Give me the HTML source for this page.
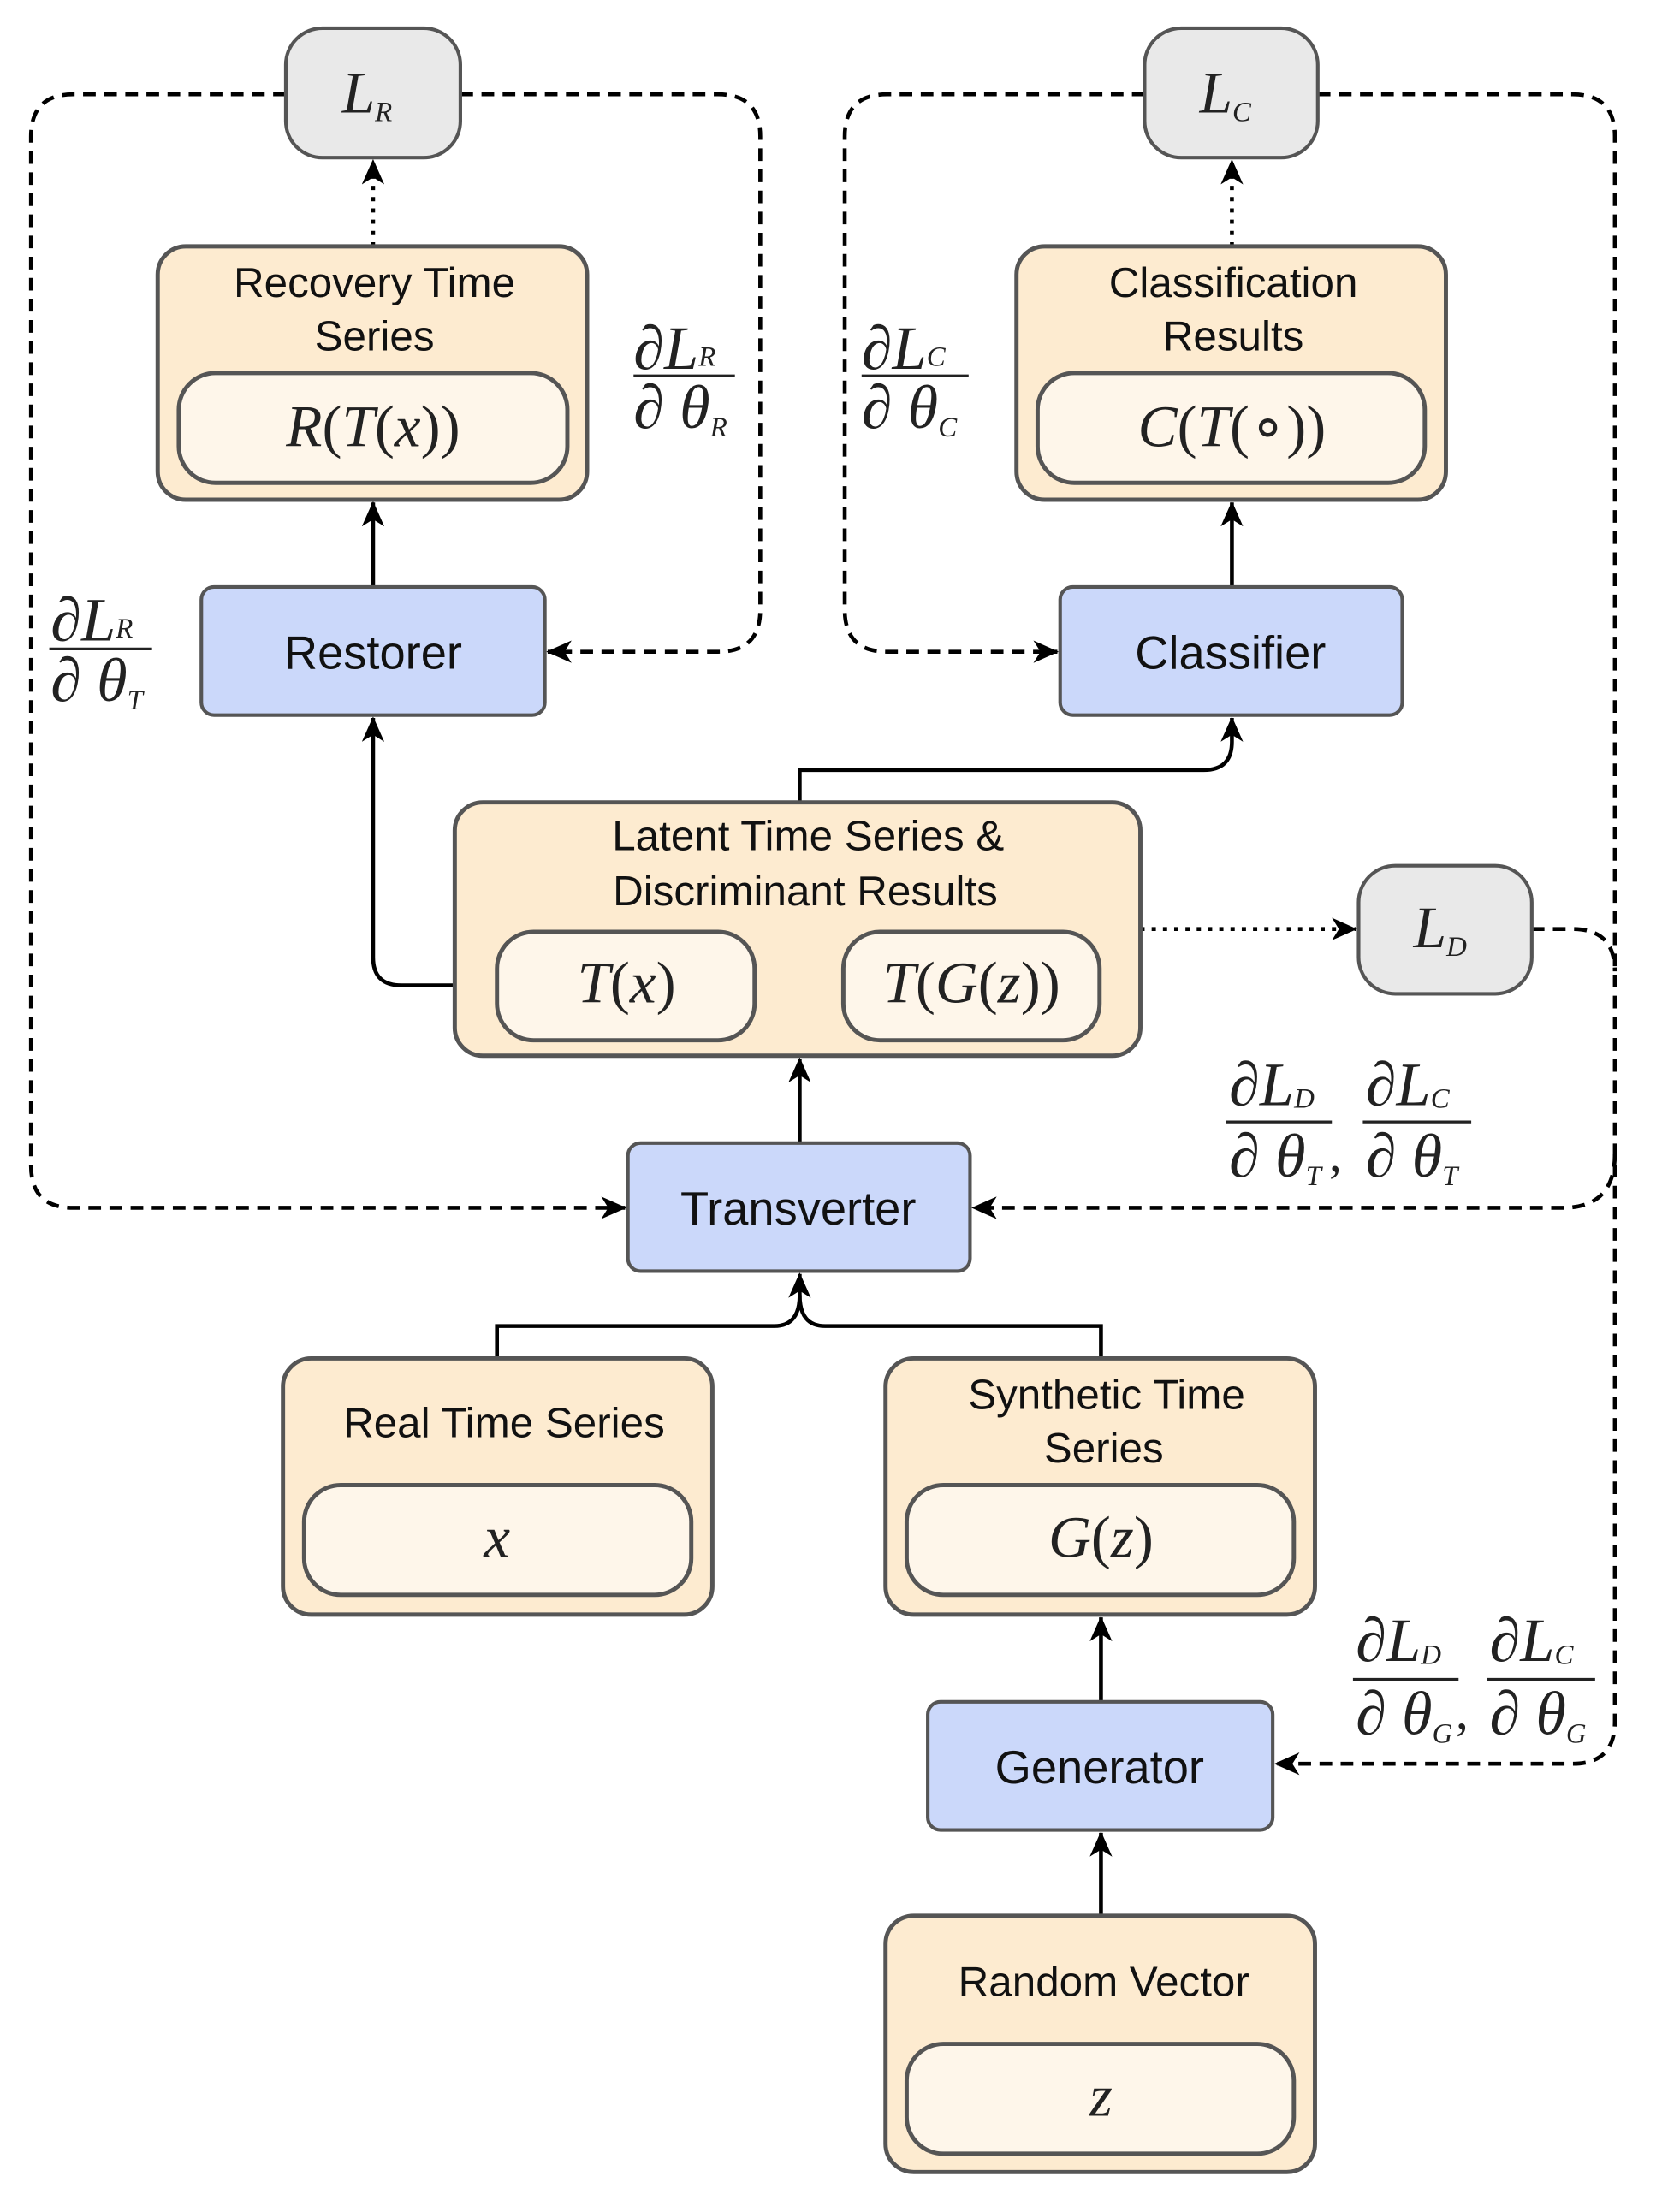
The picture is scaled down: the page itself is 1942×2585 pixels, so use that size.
<!DOCTYPE html>
<html><head><meta charset="utf-8"><style>
html,body{margin:0;padding:0;background:#fff}
svg{display:block}
.t{font-family:"Liberation Sans",sans-serif;fill:#111;text-anchor:middle}
.m{font-family:"Liberation Serif",serif;fill:#222}
.i{font-style:italic}
.o{fill:#fdebd0;stroke:#555;stroke-width:3}
.in{fill:#fef6ea;stroke:#555;stroke-width:3}
.b{fill:#cbd8fa;stroke:#555;stroke-width:2.5}
.g{fill:#e9e9e9;stroke:#555;stroke-width:2.5}
.s{fill:none;stroke:#000;stroke-width:2.8}
.d{fill:none;stroke:#000;stroke-width:2.8;stroke-dasharray:9 6}
.p{fill:none;stroke:#000;stroke-width:2.8;stroke-dasharray:3 5}
</style></head><body>
<svg width="1942" height="2585" viewBox="0 0 1180.5 1571.4" preserveAspectRatio="none" xmlns="http://www.w3.org/2000/svg">
<defs>
<marker id="a" markerUnits="userSpaceOnUse" markerWidth="18" markerHeight="16" refX="17" refY="8" orient="auto">
<path d="M0,0 L18,8 L0,16 L5,8 z" fill="#000"/></marker>
</defs>

<path class="d" d="M203,67 H52 Q22,67 22,97 V828 Q22,858 52,858 H444" marker-end="url(#a)"/>
<path class="d" d="M327,67 H510 Q540,67 540,97 V433 Q540,463 510,463 H389" marker-end="url(#a)"/>
<path class="d" d="M813,67 H630 Q600,67 600,97 V433 Q600,463 630,463 H751" marker-end="url(#a)"/>
<path class="d" d="M936,67 H1117 Q1147,67 1147,97 V1223 Q1147,1253 1117,1253 H906" marker-end="url(#a)"/>
<path class="d" d="M1088,660 H1117 Q1147,660 1147,690"/>
<path class="d" d="M1147,820 Q1147,858 1110,858 H691" marker-end="url(#a)"/>

<path class="p" d="M265,175 V114" marker-end="url(#a)"/>
<path class="p" d="M875,175 V114" marker-end="url(#a)"/>
<path class="p" d="M810,660 H963" marker-end="url(#a)"/>

<path class="s" d="M265,417 V357" marker-end="url(#a)"/>
<path class="s" d="M875,417 V357" marker-end="url(#a)"/>
<path class="s" d="M568,570 V547 H855 Q875,547 875,527 V510" marker-end="url(#a)"/>
<path class="s" d="M353,700 H285 Q265,700 265,680 V510" marker-end="url(#a)"/>
<path class="s" d="M568,812 V752" marker-end="url(#a)"/>
<path class="s" d="M353,965 V942 H550 Q568,942 568,920 V905" marker-end="url(#a)"/>
<path class="s" d="M782,965 V942 H586 Q568,942 568,920"/>
<path class="s" d="M782,1209 V1149" marker-end="url(#a)"/>
<path class="s" d="M782,1361 V1302" marker-end="url(#a)"/>

<rect class="g" x="203" y="20" width="124" height="92" rx="26"/>
<text class="m" x="243" y="80" font-size="42"><tspan class="i">L</tspan><tspan class="i" font-size="20" dy="6">R</tspan></text>
<rect class="g" x="813" y="20" width="123" height="92" rx="26"/>
<text class="m" x="852" y="80" font-size="42"><tspan class="i">L</tspan><tspan class="i" font-size="20" dy="6">C</tspan></text>
<rect class="g" x="965" y="615" width="123" height="91" rx="26"/>
<text class="m" x="1004" y="673" font-size="42"><tspan class="i">L</tspan><tspan class="i" font-size="20" dy="6">D</tspan></text>

<rect class="o" x="112" y="175" width="305" height="180" rx="20"/>
<text class="t" x="266" y="211" font-size="30">Recovery Time</text>
<text class="t" x="266" y="249" font-size="30">Series</text>
<rect class="in" x="127" y="265" width="276" height="78" rx="26"/>
<text class="m" x="265" y="317" font-size="42" text-anchor="middle"><tspan class="i">R</tspan>(<tspan class="i">T</tspan>(<tspan class="i">x</tspan>))</text>

<rect class="o" x="722" y="175" width="305" height="180" rx="20"/>
<text class="t" x="876" y="211" font-size="30">Classification</text>
<text class="t" x="876" y="249" font-size="30">Results</text>
<rect class="in" x="737" y="265" width="275" height="78" rx="26"/>
<text class="m" x="875" y="317" font-size="42" text-anchor="middle"><tspan class="i">C</tspan>(<tspan class="i">T</tspan>(∘))</text>

<rect class="b" x="143" y="417" width="244" height="91" rx="9"/>
<text class="t" x="265" y="475" font-size="33">Restorer</text>
<rect class="b" x="753" y="417" width="243" height="91" rx="9"/>
<text class="t" x="874" y="475" font-size="33">Classifier</text>
<rect class="b" x="446" y="812" width="243" height="91" rx="9"/>
<text class="t" x="567" y="870" font-size="33">Transverter</text>
<rect class="b" x="659" y="1209" width="245" height="91" rx="9"/>
<text class="t" x="781" y="1267" font-size="33">Generator</text>

<rect class="o" x="323" y="570" width="487" height="180" rx="20"/>
<text class="t" x="574" y="604" font-size="30">Latent Time Series &amp;</text>
<text class="t" x="572" y="643" font-size="30">Discriminant Results</text>
<rect class="in" x="353" y="662" width="183" height="77" rx="26"/>
<text class="m" x="445" y="712" font-size="42" text-anchor="middle"><tspan class="i">T</tspan>(<tspan class="i">x</tspan>)</text>
<rect class="in" x="599" y="662" width="182" height="77" rx="26"/>
<text class="m" x="690" y="712" font-size="42" text-anchor="middle"><tspan class="i">T</tspan>(<tspan class="i">G</tspan>(<tspan class="i">z</tspan>))</text>

<rect class="o" x="201" y="965" width="305" height="182" rx="20"/>
<text class="t" x="358" y="1021" font-size="30">Real Time Series</text>
<rect class="in" x="216" y="1055" width="275" height="78" rx="26"/>
<text class="m i" x="353" y="1106" font-size="42" text-anchor="middle">x</text>

<rect class="o" x="629" y="965" width="305" height="182" rx="20"/>
<text class="t" x="786" y="1001" font-size="30">Synthetic Time</text>
<text class="t" x="784" y="1039" font-size="30">Series</text>
<rect class="in" x="644" y="1055" width="275" height="78" rx="26"/>
<text class="m" x="782" y="1106" font-size="42" text-anchor="middle"><tspan class="i">G</tspan>(<tspan class="i">z</tspan>)</text>

<rect class="o" x="629" y="1361" width="305" height="182" rx="20"/>
<text class="t" x="784" y="1418" font-size="30">Random Vector</text>
<rect class="in" x="644" y="1452" width="275" height="78" rx="26"/>
<text class="m i" x="782" y="1503" font-size="42" text-anchor="middle">z</text>

<g class="m" font-size="44">
<text x="450" y="262">∂<tspan class="i">L</tspan><tspan class="i" font-size="20" dy="-2">R</tspan></text>
<line x1="450" y1="267" x2="522" y2="267" stroke="#222" stroke-width="2"/>
<text x="450" y="304">∂ <tspan class="i">θ</tspan><tspan class="i" font-size="20" dy="6">R</tspan></text>

<text x="612" y="262">∂<tspan class="i">L</tspan><tspan class="i" font-size="20" dy="-2">C</tspan></text>
<line x1="612" y1="267" x2="688" y2="267" stroke="#222" stroke-width="2"/>
<text x="612" y="304">∂ <tspan class="i">θ</tspan><tspan class="i" font-size="20" dy="6">C</tspan></text>

<text x="36" y="455">∂<tspan class="i">L</tspan><tspan class="i" font-size="20" dy="-2">R</tspan></text>
<line x1="35" y1="461" x2="108" y2="461" stroke="#222" stroke-width="2"/>
<text x="36" y="498">∂ <tspan class="i">θ</tspan><tspan class="i" font-size="20" dy="6">T</tspan></text>

<text x="873" y="785">∂<tspan class="i">L</tspan><tspan class="i" font-size="20" dy="2">D</tspan></text>
<line x1="871" y1="797" x2="946" y2="797" stroke="#222" stroke-width="2"/>
<text x="873" y="836">∂ <tspan class="i">θ</tspan><tspan class="i" font-size="20" dy="6">T</tspan></text>
<text x="944" y="832" font-size="36">,</text>
<text x="970" y="785">∂<tspan class="i">L</tspan><tspan class="i" font-size="20" dy="2">C</tspan></text>
<line x1="968" y1="797" x2="1045" y2="797" stroke="#222" stroke-width="2"/>
<text x="970" y="836">∂ <tspan class="i">θ</tspan><tspan class="i" font-size="20" dy="6">T</tspan></text>

<text x="963" y="1180">∂<tspan class="i">L</tspan><tspan class="i" font-size="20" dy="2">D</tspan></text>
<line x1="961" y1="1193" x2="1036" y2="1193" stroke="#222" stroke-width="2"/>
<text x="963" y="1232">∂ <tspan class="i">θ</tspan><tspan class="i" font-size="20" dy="6">G</tspan></text>
<text x="1034" y="1228" font-size="36">,</text>
<text x="1058" y="1180">∂<tspan class="i">L</tspan><tspan class="i" font-size="20" dy="2">C</tspan></text>
<line x1="1056" y1="1193" x2="1133" y2="1193" stroke="#222" stroke-width="2"/>
<text x="1058" y="1232">∂ <tspan class="i">θ</tspan><tspan class="i" font-size="20" dy="6">G</tspan></text>
</g>
</svg>
</body></html>
